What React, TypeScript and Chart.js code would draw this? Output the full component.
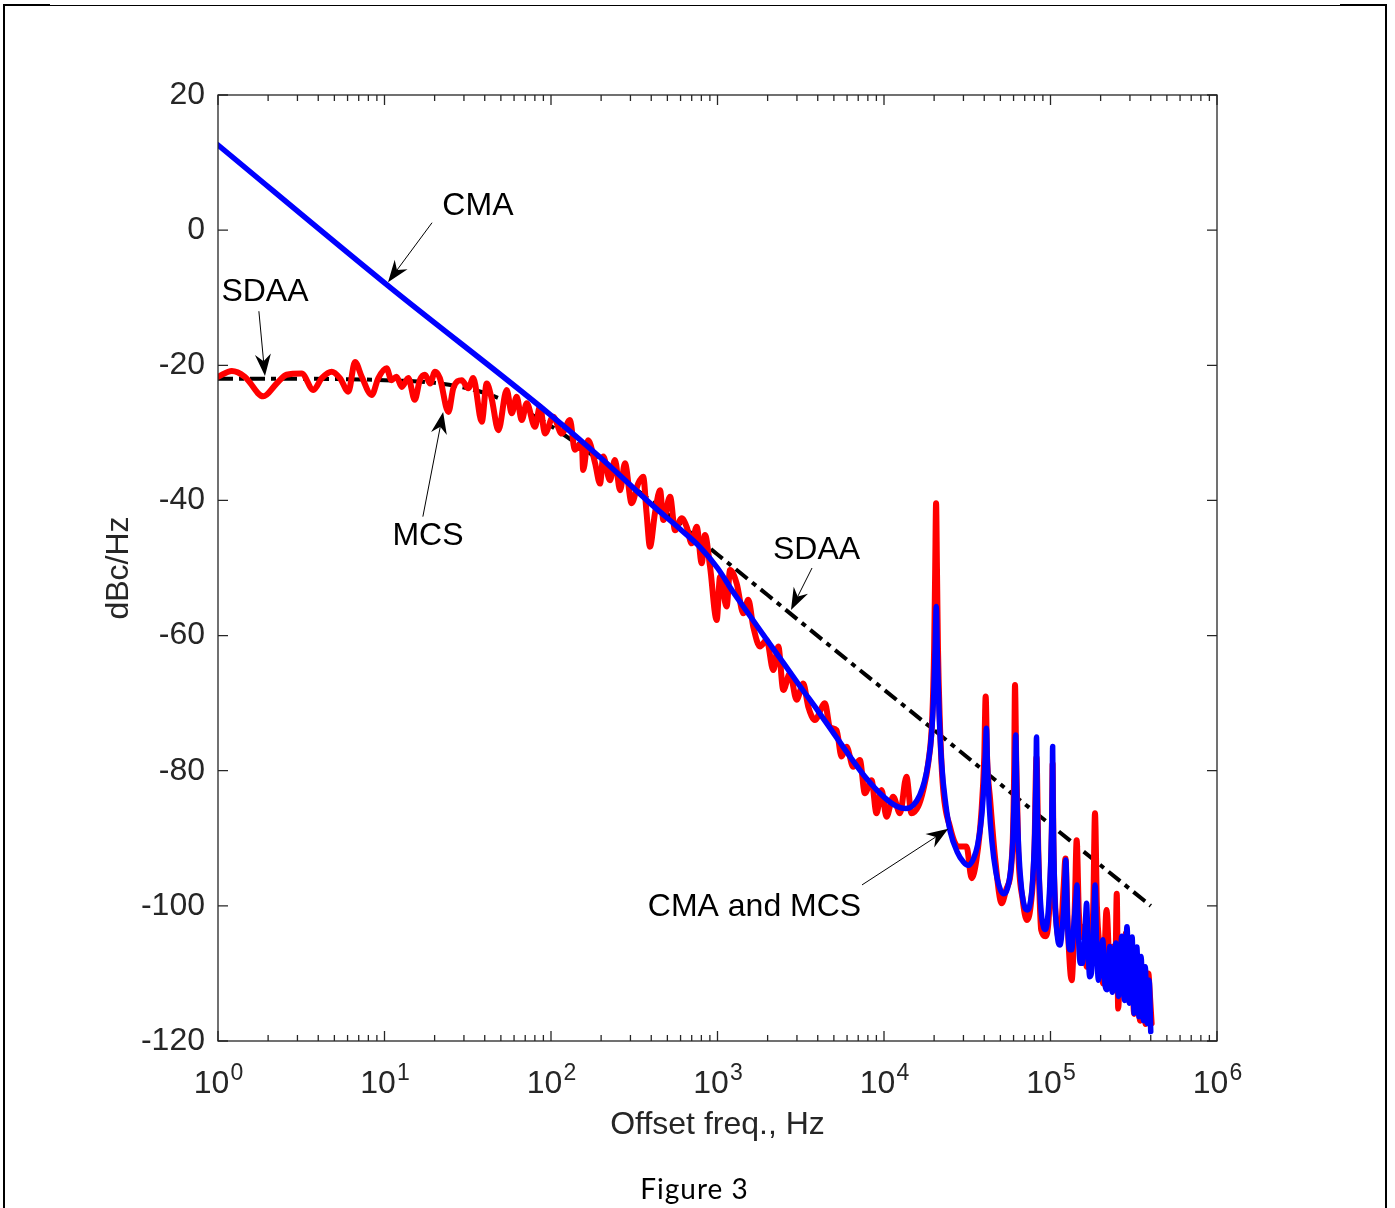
import React, { useEffect, useRef } from "react";
import { Chart, registerables } from "chart.js";

Chart.register(...registerables);

// ---------------- data ----------------
// MCS (red)
const mcsFreq = [
  1.0, 1.21, 1.45, 1.87, 2.25, 2.58, 3.18, 3.74, 4.2, 4.82, 5.4, 6.07, 6.65, 7.3, 8.38, 9.18,
  10.3, 11.0, 11.8, 12.7, 13.9, 15.2, 16.3, 17.5, 18.8, 20.1, 21.5, 24.2, 25.9, 29.1, 31.9, 34.1,
  38.4, 41.1, 44.0, 48.3, 54.2, 58.1, 62.2, 66.7, 71.5, 80.1, 85.9, 92.0, 103, 116, 130, 139,
  153, 156, 167, 184, 197, 206, 226, 242, 260, 278, 305, 334, 358, 375, 393, 421, 452, 473,
  519, 556, 609, 653, 700, 750, 804, 841, 902, 989, 1036, 1135, 1189, 1304, 1430, 1531,
  1640, 1799, 1974, 2163, 2318, 2484, 2723, 2985, 3273, 3507, 3846, 4416, 4732, 5188, 5560,
  5957, 6531, 7161, 7674, 8414, 9016, 9661, 10350, 11350, 12470, 13640, 14620, 16040, 17200,
  18430, 19500, 20000, 20300, 20550, 20800, 21100, 21600, 22500, 24900, 27900, 31300, 33600,
  35900, 38500, 40000, 40800, 41600, 43400, 46600, 50900, 54000, 59000, 60500, 61200, 62200,
  64000, 68000, 72000, 76000, 80000, 82400, 84500, 88000, 93000, 98000, 102000, 103000, 104000,
  109000, 114000, 120000, 123000, 127000, 134000, 140000, 143600, 148000, 153900, 160000, 164900,
  170000, 176000, 181000, 185000, 190000, 198000, 207500, 217000, 228000, 238000, 245000, 250000,
  255000, 264000, 274000, 284000, 294000, 305000, 318000, 330000, 345000, 360000, 372000, 387000,
  395000, 405000,
];
const mcsLevel = [
  -21.7, -20.85, -21.7, -24.6, -22.7, -21.4, -21.2, -23.65, -21.9, -20.95, -21.9, -23.9, -19.5, -21.7, -24.4, -21.9,
  -20.45, -22.2, -21.7, -23.2, -21.9, -25.1, -22.2, -21.4, -22.7, -20.95, -21.9, -26.9, -23.4, -22.2, -23.4, -21.9,
  -28.35, -22.7, -24.9, -29.6, -23.65, -27.1, -24.65, -28.1, -25.6, -29.1, -26.1, -30.1, -27.6, -30.1, -28.1, -32.5,
  -31.5, -35.5, -31.1, -34.5, -37.5, -33.5, -37.0, -34.0, -38.5, -34.5, -40.4, -37.5, -36.5, -41.9, -46.85, -41.9, -38.5, -42.9,
  -39.45, -44.4, -42.65, -43.9, -46.35, -43.9, -49.3, -45.1, -49.8, -57.7, -51.3, -55.7, -50.3, -52.3, -56.7, -54.7,
  -58.7, -61.6, -60.65, -65.1, -61.6, -68.05, -65.6, -69.5, -67.1, -70.5, -72.5, -70.0, -73.5, -74.0, -77.9,
  -76.45, -79.4, -78.4, -83.35, -81.4, -86.3, -82.85, -86.8, -83.85, -86.3, -80.9, -86.3, -85.3, -82.9,
  -78.9, -72.0, -62.0, -50.0, -40.4, -50.0, -62.0, -72.0, -81.8, -88.3, -91.2, -91.2, -95.9,
  -93.2, -86.0, -78.0, -69.0, -78.0, -84.3, -93.2, -99.6, -97.7, -91.7, -80.0, -67.3, -78.0,
  -91.7, -99.0, -102.1, -100.0, -92.0, -78.0, -92.0, -103.6, -104.5, -101.0, -88.0, -79.0, -90.0,
  -103.0, -105.0, -97.0, -93.0, -103.0, -111.0, -100.0, -90.3, -101.0, -104.6, -103.0, -109.0,
  -104.0, -108.0, -99.0, -86.3, -100.0, -106.5, -111.5, -100.6, -110.0, -106.0, -110.0, -98.2,
  -115.2, -106.0, -109.0, -104.0, -114.0, -106.0, -116.0, -108.0, -117.0, -109.0, -117.5, -110.0,
  -113.0, -117.4,
];

// CMA (blue)
const cmaFreq = [
  1, 10, 100, 197, 393, 600, 785, 1000, 1245, 1600, 1974, 2500, 3128, 4000, 4963, 6200, 7870,
  10000, 12000, 13500, 15000, 16400, 17500, 18500, 19300, 19900, 20300, 20600, 20900, 21400,
  22200, 23500, 25000, 27500, 30000, 32000, 34500, 36500, 38500, 39800, 40600, 41200, 41800,
  42800, 44500, 47000, 50000, 52500, 55000, 57500, 59500, 60800, 61800, 62800, 64500, 67000,
  70000, 72500, 75000, 78000, 80500, 81800, 82400, 83200, 85000, 88000, 91000, 93000, 96000,
  99000, 101500, 102500, 103000, 103800, 106000, 110000, 114000, 118000, 121000, 123600, 126000,
  130000, 134000, 138000, 142000, 144200, 147000, 151000, 155000, 159000, 162000, 164800, 168000,
  172000, 176000, 180000, 183000, 185400, 189000, 194000, 200000, 206000, 212000, 219000, 227000,
  235000, 247000, 256000, 268000, 278000, 288000, 298000, 309000, 318000, 330000, 340000, 350000,
  361000, 371000, 380000, 391000, 400000,
];
const cmaLevel = [
  12.6, -7.8, -27.4, -33.6, -40.4, -44.3, -46.9, -50.0, -53.6, -57.4, -60.6, -64.1, -67.5, -71.1, -74.4, -77.8, -81.2,
  -83.9, -85.3, -85.6, -85.1, -83.6, -81.6, -78.6, -74.6, -68.5, -61.5, -55.7, -62.5, -71.0,
  -79.0, -85.0, -89.0, -92.0, -93.5, -94.0, -93.0, -91.0, -87.0, -82.0, -77.5, -73.7, -79.0,
  -85.0, -90.5, -95.0, -97.6, -98.2, -97.5, -95.0, -90.0, -82.0, -74.7, -84.0, -92.0, -97.5,
  -100.2, -100.6, -100.0, -96.5, -89.0, -81.0, -75.0, -84.0, -94.0, -101.0, -103.2, -103.5, -102.0,
  -97.0, -89.0, -82.0, -76.4, -86.0, -98.0, -104.5, -105.8, -103.0, -99.0, -93.2, -101.0,
  -106.5, -106.5, -103.0, -99.0, -96.9, -104.0, -108.5, -108.5, -106.0, -102.5, -99.6, -106.0,
  -110.5, -110.0, -105.0, -100.0, -96.9, -105.0, -111.0, -108.0, -105.0, -111.5, -112.4, -106.0,
  -112.8, -105.5, -113.4, -104.5, -114.0, -103.1, -114.4, -104.6, -115.9, -106.1, -116.4, -107.5,
  -117.0, -109.0, -117.4, -111.0, -118.6,
];

// SDAA (black dash-dot)
const sdaaFreq = [1, 3, 10, 20, 30, 40, 50, 70, 100, 150, 200, 300, 500, 700, 1000, 2000, 5000, 10000, 20000, 50000, 100000, 200000, 400000];
const sdaaLevel = [-22.0, -22.0, -22.2, -22.6, -23.3, -24.1, -25.0, -26.8, -29.0, -32.0, -34.3, -37.7, -42.0, -44.9, -48.0, -54.0, -62.0, -68.0, -74.0, -82.0, -88.0, -94.0, -100.0];

// axes
const xMin = 1;
const xMax = 1e6;
const yMin = -120;
const yMax = 20;
const yTickValues = [-120, -100, -80, -60, -40, -20, 0, 20];
const xDecades = [1, 10, 100, 1000, 10000, 100000, 1000000];
const minorMultipliers = [1, 2, 3, 4, 5, 6, 7, 8, 9];
const xTickBase = "10";
const xTickExponents = ["0", "1", "2", "3", "4", "5", "6"];
const xTitle = "Offset freq., Hz";
const yTitle = "dBc/Hz";
const caption = "Figure 3";

// annotations (data coordinates)
const annText = ["CMA", "SDAA", "MCS", "SDAA", "CMA and MCS"];
const annTextFreq = [36.4, 1.915, 18.25, 3932, 1668];
const annTextLevel = [3.6, -9.2, -45.3, -47.3, -100.2];
const arrowTailFreq = [19.3, 1.76, 17.0, 3696, 7379];
const arrowTailLevel = [1.1, -12.0, -42.4, -50.0, -96.9];
const arrowHeadFreq = [10.5, 1.915, 22.5, 2763, 24330];
const arrowHeadLevel = [-7.7, -21.6, -26.9, -56.2, -88.6];

const FONT = "'Liberation Sans', Arial, Helvetica, sans-serif";
const AXIS_COLOR = "#262626";

const toPoints = (xs: number[], ys: number[]) => xs.map((x, i) => ({ x, y: ys[i] }));

const axesPlugin = {
  id: "matlabAxes",
  afterDraw(chart: any) {
    const { ctx, chartArea } = chart;
    const { left, right, top, bottom } = chartArea;
    const xs = chart.scales.x;
    const ys = chart.scales.y;
    ctx.save();
    ctx.strokeStyle = AXIS_COLOR;
    ctx.lineWidth = 1.3;
    ctx.strokeRect(left, top, right - left, bottom - top);
    ctx.beginPath();
    for (const d of xDecades) {
      for (const m of minorMultipliers) {
        const v = d * m;
        if (v > xMax) continue;
        const px = xs.getPixelForValue(v);
        const len = m === 1 ? 10 : 6;
        ctx.moveTo(px, bottom);
        ctx.lineTo(px, bottom - len);
        ctx.moveTo(px, top);
        ctx.lineTo(px, top + len);
      }
    }
    for (const v of yTickValues) {
      const py = ys.getPixelForValue(v);
      ctx.moveTo(left, py);
      ctx.lineTo(left + 10, py);
      ctx.moveTo(right, py);
      ctx.lineTo(right - 10, py);
    }
    ctx.stroke();

    // x tick labels 10^n
    ctx.fillStyle = AXIS_COLOR;
    ctx.textBaseline = "alphabetic";
    ctx.textAlign = "left";
    xDecades.forEach((d, i) => {
      const px = xs.getPixelForValue(d);
      ctx.font = `32px ${FONT}`;
      const w1 = ctx.measureText(xTickBase).width;
      ctx.font = `23px ${FONT}`;
      const w2 = ctx.measureText(xTickExponents[i]).width;
      const start = px - (w1 + w2) / 2;
      ctx.font = `32px ${FONT}`;
      ctx.fillText(xTickBase, start, bottom + 52);
      ctx.font = `23px ${FONT}`;
      ctx.fillText(xTickExponents[i], start + w1 + 1, bottom + 39);
    });
    ctx.restore();
  },
};

const annotationPlugin = {
  id: "arrowNotes",
  afterDatasetsDraw(chart: any) {
    const { ctx } = chart;
    const xs = chart.scales.x;
    const ys = chart.scales.y;
    ctx.save();
    ctx.fillStyle = "#000";
    ctx.strokeStyle = "#000";
    ctx.font = `32px ${FONT}`;
    ctx.textAlign = "center";
    ctx.textBaseline = "middle";
    annText.forEach((t, i) => {
      ctx.fillText(t, xs.getPixelForValue(annTextFreq[i]), ys.getPixelForValue(annTextLevel[i]));
      const x0 = xs.getPixelForValue(arrowTailFreq[i]);
      const y0 = ys.getPixelForValue(arrowTailLevel[i]);
      const x1 = xs.getPixelForValue(arrowHeadFreq[i]);
      const y1 = ys.getPixelForValue(arrowHeadLevel[i]);
      const dx = x1 - x0;
      const dy = y1 - y0;
      const L = Math.hypot(dx, dy);
      const ux = dx / L;
      const uy = dy / L;
      const nx = -uy;
      const ny = ux;
      const headLen = 22;
      const halfW = 8;
      const notch = 15;
      ctx.lineWidth = 1;
      ctx.beginPath();
      ctx.moveTo(x0, y0);
      ctx.lineTo(x1 - ux * notch, y1 - uy * notch);
      ctx.stroke();
      ctx.beginPath();
      ctx.moveTo(x1, y1);
      ctx.lineTo(x1 - ux * headLen + nx * halfW, y1 - uy * headLen + ny * halfW);
      ctx.lineTo(x1 - ux * notch, y1 - uy * notch);
      ctx.lineTo(x1 - ux * headLen - nx * halfW, y1 - uy * headLen - ny * halfW);
      ctx.closePath();
      ctx.fill();
    });
    ctx.restore();
  },
};

export default function App() {
  const canvasRef = useRef<HTMLCanvasElement | null>(null);

  useEffect(() => {
    if (!canvasRef.current) return;
    const chart = new Chart(canvasRef.current, {
      type: "line",
      data: {
        datasets: [
          {
            label: "CMA",
            data: toPoints(cmaFreq, cmaLevel),
            borderColor: "#0000ff",
            borderWidth: 5.5,
            pointRadius: 0,
            cubicInterpolationMode: "monotone",
            borderJoinStyle: "round",
            borderCapStyle: "round",
            order: 1,
          },
          {
            label: "MCS",
            data: toPoints(mcsFreq, mcsLevel),
            borderColor: "#ff0000",
            borderWidth: 6,
            pointRadius: 0,
            cubicInterpolationMode: "monotone",
            borderJoinStyle: "round",
            borderCapStyle: "round",
            order: 2,
          },
          {
            label: "SDAA",
            data: toPoints(sdaaFreq, sdaaLevel),
            borderColor: "#000000",
            borderWidth: 4,
            borderDash: [15, 6, 5, 6],
            pointRadius: 0,
            cubicInterpolationMode: "monotone",
            order: 3,
          },
        ],
      },
      options: {
        responsive: false,
        animation: false,
        devicePixelRatio: 1,
        layout: { padding: { left: 88, top: 95, right: 178, bottom: 57 } },
        plugins: { legend: { display: false }, tooltip: { enabled: false } },
        scales: {
          x: {
            type: "logarithmic",
            min: xMin,
            max: xMax,
            position: "bottom",
            grid: { display: false, drawTicks: false },
            border: { display: false },
            ticks: { display: false },
            title: {
              display: true,
              text: xTitle,
              color: AXIS_COLOR,
              font: { family: FONT, size: 32 },
              padding: { top: 0, bottom: 7 },
            },
            afterFit: (s: any) => {
              s.height = 110;
            },
          },
          y: {
            type: "linear",
            min: yMin,
            max: yMax,
            position: "left",
            grid: { display: false, drawTicks: false },
            border: { display: false },
            afterBuildTicks: (s: any) => {
              s.ticks = yTickValues.map((v) => ({ value: v }));
            },
            ticks: {
              color: AXIS_COLOR,
              font: { family: FONT, size: 32 },
              padding: 13,
              callback: (v: any) => String(v),
            },
            title: {
              display: true,
              text: yTitle,
              color: AXIS_COLOR,
              font: { family: FONT, size: 32 },
              padding: { top: 12, bottom: 0 },
            },
            afterFit: (s: any) => {
              s.width = 130;
            },
          },
        },
      },
      plugins: [axesPlugin, annotationPlugin],
    } as any);
    return () => chart.destroy();
  }, []);

  return (
    <div style={{ position: "absolute", left: 0, top: 0, width: 1395, height: 1208, background: "#fff", overflow: "hidden" }}>
      <canvas ref={canvasRef} width={1395} height={1208} style={{ display: "block", width: 1395, height: 1208 }} />
      {/* page frame */}
      <div style={{ position: "absolute", left: 4, top: 5, width: 1383, height: 1, background: "#000" }} />
      <div style={{ position: "absolute", left: 3, top: 4, width: 47, height: 2, background: "#000" }} />
      <div style={{ position: "absolute", left: 1340, top: 4, width: 47, height: 2, background: "#000" }} />
      <div style={{ position: "absolute", left: 3, top: 5, width: 2, height: 1203, background: "#000" }} />
      <div style={{ position: "absolute", left: 1385, top: 5, width: 2, height: 1203, background: "#000" }} />
      <div
        style={{
          position: "absolute",
          left: 0,
          top: 1170,
          width: 1389,
          textAlign: "center",
          fontFamily: "Lato, 'Open Sans', sans-serif",
          fontSize: 28,
          lineHeight: "36px",
          letterSpacing: 1,
          color: "#000",
        }}
      >
        {caption}
      </div>
    </div>
  );
}
